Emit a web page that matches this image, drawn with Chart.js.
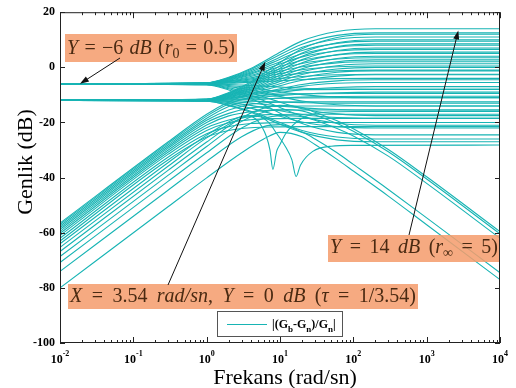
<!DOCTYPE html>
<html>
<head>
<meta charset="utf-8">
<script src="https://cdn.jsdelivr.net/npm/chart.js@4.4.0/dist/chart.umd.min.js"></script>
<style>
  html, body { margin: 0; padding: 0; background: #fff; }
  canvas { display: block; }
</style>
</head>
<body>
<canvas id="bode" width="516" height="388"></canvas>
<script>
// frequency grids (rad/sn)
const fanFreq = [0.01, 1, 2, 4, 8, 20, 60, 200, 10000];
const riseFreq = [0.01, 0.3, 1, 2, 4, 8, 20, 100, 10000];
const fallFreq = [0.01, 0.3, 1, 3, 6, 10, 20, 30, 60, 100, 300, 1000, 10000];

// curves that start flat at -6 dB (r0 = 0.5), values in dB on fanFreq
const curvesFromMinus6 = [
  [-6, -5.6, -3.6, -0.4, 4, 9.6, 13, 14, 14],
  [-6, -5.6, -3.8, -0.8, 3.3, 8.4, 11.6, 12.5, 12.5],
  [-6, -5.7, -4, -1.2, 2.5, 7.3, 10.2, 11, 11],
  [-6, -5.7, -4.1, -1.7, 1.8, 6.1, 8.7, 9.5, 9.5],
  [-6, -5.7, -4.3, -2.1, 1, 4.9, 7.3, 8, 8],
  [-6, -5.8, -4.5, -2.5, 0.3, 3.8, 5.9, 6.5, 6.5],
  [-6, -5.8, -4.7, -2.9, -0.5, 2.6, 4.5, 5, 5],
  [-6, -5.8, -4.9, -3.3, -1.3, 1.4, 3, 3.5, 3.5],
  [-6, -5.8, -5, -3.8, -2, 0.2, 1.6, 2, 2],
  [-6, -5.9, -5.2, -4.2, -2.8, -0.9, 0.2, 0.5, 0.5],
  [-6, -5.9, -5.4, -4.6, -3.5, -2.1, -1.3, -1, -1],
  [-6, -5.9, -5.6, -5, -4.3, -3.3, -2.7, -2.5, -2.5],
  [-6, -6, -5.8, -5.4, -5, -4.4, -4.1, -4, -4],
  [-6, -6, -6.2, -6.6, -7, -7.6, -7.9, -8, -8],
  [-6, -6.1, -6.6, -7.4, -8.5, -9.9, -10.8, -11, -11],
  [-6, -6.2, -7, -8.2, -10, -12.2, -13.6, -14, -14],
  [-6, -6.2, -7.4, -9.2, -11.8, -15, -16.9, -17.5, -17.5],
  [-6, -6.3, -7.8, -10.2, -13.5, -17.7, -20.3, -21, -21],
  [-6, -6.4, -8.2, -11.2, -15.3, -20.4, -23.6, -24.5, -24.5]
];

// curves that start flat at -12 dB, values in dB on fanFreq
const curvesFromMinus12 = [
  [-12, -11.5, -9.1, -5.3, 0, 6.7, 10.8, 12, 12],
  [-12, -11.6, -9.4, -5.8, -1, 5.2, 8.9, 10, 10],
  [-12, -11.6, -9.5, -6.3, -1.8, 4, 7.5, 8.5, 8.5],
  [-12, -11.6, -9.7, -6.7, -2.5, 2.8, 6.1, 7, 7],
  [-12, -11.7, -9.9, -7.1, -3.3, 1.7, 4.6, 5.5, 5.5],
  [-12, -11.7, -10.1, -7.5, -4, 0.5, 3.2, 4, 4],
  [-12, -11.7, -10.2, -7.9, -4.7, -0.5, 2, 2.7, 2.7],
  [-12, -11.7, -10.4, -8.3, -5.4, -1.6, 0.6, 1.3, 1.3],
  [-12, -11.8, -10.6, -8.6, -6, -2.6, -0.6, 0, 0],
  [-12, -11.8, -10.7, -9, -6.7, -3.7, -1.8, -1.3, -1.3],
  [-12, -11.8, -10.9, -9.4, -7.4, -4.7, -3.2, -2.7, -2.7],
  [-12, -11.9, -11.1, -9.9, -8.3, -6.2, -4.9, -4.5, -4.5],
  [-12, -11.9, -11.2, -10.2, -8.8, -6.9, -5.8, -5.5, -5.5],
  [-12, -11.9, -11.4, -10.6, -9.5, -8.1, -7.3, -7, -7],
  [-12, -11.9, -11.6, -11.2, -10.5, -9.7, -9.2, -9, -9],
  [-12, -12, -11.8, -11.6, -11.3, -10.8, -10.6, -10.5, -10.5],
  [-12, -12, -12.1, -12.3, -12.5, -12.8, -13, -13, -13],
  [-12, -12.1, -12.4, -13, -13.8, -14.7, -15.3, -15.5, -15.5],
  [-12, -12.1, -12.8, -13.8, -15.3, -17.1, -18.2, -18.5, -18.5],
  [-12, -12.2, -13.2, -14.8, -17, -19.8, -21.5, -22, -22],
  [-12, -12.3, -13.7, -15.9, -19, -22.9, -25.3, -26, -26],
  [-12, -12.3, -13.9, -16.3, -19.6, -23.6, -26.3, -27, -27]
];

// curves rising at +20 dB/dec from the left edge, then levelling off (riseFreq)
const risingCurves = [
  [-56.5, -27, -17, -12.6, -9.6, -8.4, -8.1, -8, -8],
  [-57, -27.5, -17.7, -13.3, -10.9, -9.9, -9.6, -9.5, -9.5],
  [-57.6, -28.1, -18.5, -14.2, -12.1, -11.3, -11.1, -11, -11],
  [-58.2, -28.7, -19.2, -15.5, -13.4, -12.7, -12.5, -12.5, -12.5],
  [-58.8, -29.3, -20, -16.7, -14.7, -14.2, -14, -14, -14],
  [-59.5, -30, -20.9, -17.6, -16.1, -15.6, -15.5, -15.5, -15.5],
  [-60.2, -30.7, -21.9, -19.1, -17.5, -17.1, -17, -17, -17],
  [-61, -31.5, -22.9, -20.1, -19, -18.6, -18.5, -18.5, -18.5],
  [-62, -32.5, -24.1, -21.5, -20.4, -20.1, -20, -20, -20],
  [-63, -33.5, -25.3, -22.9, -21.9, -21.6, -21.5, -21.5, -21.5]
];

// curves rising at low frequency and falling at -20 dB/dec at high frequency (fallFreq)
const fallingCurves = [
  [-66.8, -37.3, -27.1, -18.3, -14.8, -13.8, -14.6, -16.3, -19.4, -22.3, -29.8, -39.7, -59.6],
  [-68.6, -39.1, -28.7, -19.6, -16.3, -15.2, -15.8, -17.3, -20.4, -23.2, -30.6, -40.5, -60.4],
  [-70.8, -41.3, -31, -22, -18.5, -17.5, -17.9, -19.2, -22.2, -24.9, -32.2, -42.1, -62],
  [-74, -44.5, -34.1, -25.2, -21.5, -20.8, -23.5, -26, -31, -35.2, -44.3, -54.6, -74.5],
  [-80, -50.5, -40.1, -31, -26, -23.6, -25.2, -28, -33.4, -37.6, -46.7, -57.1, -77]
];

// two curves with a notch, [rad/sn, dB]
const notchCurveA = [[0.01, -64], [0.3, -34.5], [1, -24.6], [2, -19.8], [3.5, -17.5], [5, -19.5],
  [6.5, -25], [7.3, -30], [8, -37], [9, -30.5], [10, -28], [12, -24], [20, -18.5], [40, -16.3],
  [100, -16], [10000, -16]];
const notchCurveB = [[0.01, -65.3], [0.3, -35.8], [1, -25.6], [3, -18.5], [5, -17.8], [7, -20],
  [9, -24], [12, -29], [14.5, -33.5], [16.6, -39.6], [19, -35.5], [28, -30.5], [50, -28.6],
  [100, -28.3], [10000, -28.2]];

const yTicks = [-100, -80, -60, -40, -20, 0, 20];
const xDecades = [-2, -1, 0, 1, 2, 3, 4];

const CYAN = '#17b4b4';
const SERIF = '"Liberation Serif", "Times New Roman", serif';

const onGrid = (freqs, row) => row.map((v, i) => ({ x: freqs[i], y: v }));
const fromPairs = pairs => pairs.map(p => ({ x: p[0], y: p[1] }));

const curves = [
  ...curvesFromMinus6.map(r => onGrid(fanFreq, r)),
  ...curvesFromMinus12.map(r => onGrid(fanFreq, r)),
  ...risingCurves.map(r => onGrid(riseFreq, r)),
  ...fallingCurves.map(r => onGrid(fallFreq, r)),
  fromPairs(notchCurveA),
  fromPairs(notchCurveB)
];

const datasets = curves.map(data => ({
  label: '|(Gb-Gn)/Gn|',
  data: data,
  borderColor: CYAN,
  borderWidth: 1.1,
  pointRadius: 0,
  fill: false,
  cubicInterpolationMode: 'monotone'
}));

// draws a latex-like line, gaps (' ') stretched so the text fills left..right
function drawMath(ctx, parts, left, right, baseline, size) {
  const fontOf = st => st === 'i' ? `italic ${size}px ${SERIF}`
    : st === 's' ? `${Math.round(size * 0.7)}px ${SERIF}` : `${size}px ${SERIF}`;
  let natural = 0, gaps = 0;
  parts.forEach(([t, st]) => {
    if (st === ' ') { gaps++; return; }
    ctx.font = fontOf(st);
    natural += ctx.measureText(t).width;
  });
  const gap = gaps ? (right - left - natural) / gaps : 0;
  let xp = left;
  parts.forEach(([t, st]) => {
    if (st === ' ') { xp += gap; return; }
    ctx.font = fontOf(st);
    ctx.fillText(t, xp, st === 's' ? baseline + size * 0.22 : baseline);
    xp += ctx.measureText(t).width;
  });
}

function arrow(ctx, x0, y0, x1, y1) {
  const ang = Math.atan2(y1 - y0, x1 - x0);
  const len = 9, half = 3;
  ctx.beginPath();
  ctx.moveTo(x0, y0);
  ctx.lineTo(x1 - Math.cos(ang) * len * 0.8, y1 - Math.sin(ang) * len * 0.8);
  ctx.stroke();
  ctx.beginPath();
  ctx.moveTo(x1, y1);
  ctx.lineTo(x1 - Math.cos(ang) * len - Math.sin(ang) * half, y1 - Math.sin(ang) * len + Math.cos(ang) * half);
  ctx.lineTo(x1 - Math.cos(ang) * len + Math.sin(ang) * half, y1 - Math.sin(ang) * len - Math.cos(ang) * half);
  ctx.closePath();
  ctx.fill();
}

const G = ['', ' '];
const notes = [
  { box: [65, 34, 237, 62], base: 54, text: [['Y', 'i'], G, ['=', 'r'], G, ['\u22126', 'r'], G, ['dB', 'i'], G,
      ['(', 'r'], ['r', 'i'], ['0', 's'], G, ['=', 'r'], G, ['0.5)', 'r']],
    from: [120, 58], to: [0.0187, -6] },
  { box: [68, 284, 418, 309], base: 302, text: [['X', 'i'], G, ['=', 'r'], G, ['3.54', 'r'], G, ['rad/sn', 'i'],
      [',', 'r'], G, ['Y', 'i'], G, ['=', 'r'], G, ['0', 'r'], G, ['dB', 'i'], G, ['(', 'r'], ['\u03c4', 'i'], G,
      ['=', 'r'], G, ['1/3.54)', 'r']],
    from: [168, 285], to: [6.3, 2] },
  { box: [328, 235, 500, 262], base: 253, text: [['Y', 'i'], G, ['=', 'r'], G, ['14', 'r'], G, ['dB', 'i'], G,
      ['(', 'r'], ['r', 'i'], ['\u221e', 's'], G, ['=', 'r'], G, ['5)', 'r']],
    from: [409, 235], to: [2700, 13.4] }
];

const decorations = {
  id: 'decorations',
  afterDatasetsDraw(chart) {
    const { ctx, chartArea: a, scales: { x, y } } = chart;
    ctx.save();

    // annotation boxes and arrows
    notes.forEach(n => {
      const [l, t, r, b] = n.box;
      ctx.fillStyle = 'rgba(245,156,108,0.86)';
      ctx.fillRect(l, t, r - l, b - t);
      ctx.fillStyle = '#4a2a12';
      ctx.textBaseline = 'alphabetic';
      ctx.textAlign = 'left';
      drawMath(ctx, n.text, l + 2, r - 2, n.base, 20);
      ctx.strokeStyle = '#111';
      ctx.fillStyle = '#111';
      ctx.lineWidth = 1;
      arrow(ctx, n.from[0], n.from[1], x.getPixelForValue(n.to[0]), y.getPixelForValue(n.to[1]));
    });

    // legend
    ctx.fillStyle = '#fff';
    ctx.fillRect(217, 311, 126, 26);
    ctx.strokeStyle = '#555';
    ctx.strokeRect(217.5, 311.5, 125, 25);
    ctx.strokeStyle = CYAN;
    ctx.beginPath();
    ctx.moveTo(227, 324.5);
    ctx.lineTo(267, 324.5);
    ctx.stroke();
    ctx.fillStyle = '#000';
    ctx.textBaseline = 'alphabetic';
    let lx = 272;
    [['|(G', 0], ['b', 1], ['-G', 0], ['n', 1], [')/G', 0], ['n', 1], ['|', 0]].forEach(([t, sub]) => {
      ctx.font = `bold ${sub ? 9 : 12}px ${SERIF}`;
      ctx.fillText(t, lx, sub ? 332 : 328);
      lx += ctx.measureText(t).width;
    });

    // frame
    ctx.strokeStyle = '#222';
    ctx.lineWidth = 1;
    ctx.strokeRect(a.left + 0.5, a.top + 0.5, a.right - a.left - 1, a.bottom - a.top - 1);

    // inward tick marks
    ctx.beginPath();
    xDecades.forEach(k => {
      for (let m = 1; m <= 9; m++) {
        const v = m * Math.pow(10, k);
        if (v > 10000) break;
        const px = Math.round(x.getPixelForValue(v)) + 0.5;
        const len = m === 1 ? 6 : 3;
        ctx.moveTo(px, a.bottom); ctx.lineTo(px, a.bottom - len);
        ctx.moveTo(px, a.top); ctx.lineTo(px, a.top + len);
      }
    });
    yTicks.forEach(v => {
      const py = Math.round(y.getPixelForValue(v)) + 0.5;
      ctx.moveTo(a.left, py); ctx.lineTo(a.left + 5, py);
      ctx.moveTo(a.right, py); ctx.lineTo(a.right - 5, py);
    });
    ctx.stroke();

    // x tick labels 10^k
    ctx.fillStyle = '#000';
    xDecades.forEach(k => {
      const px = x.getPixelForValue(Math.pow(10, k));
      ctx.font = `bold 12px ${SERIF}`;
      const wBase = ctx.measureText('10').width;
      ctx.font = `bold 8px ${SERIF}`;
      const wExp = ctx.measureText(String(k)).width;
      const start = px - (wBase + wExp) / 2;
      ctx.font = `bold 12px ${SERIF}`;
      ctx.fillText('10', start, 363);
      ctx.font = `bold 8px ${SERIF}`;
      ctx.fillText(String(k), start + wBase, 356);
    });

    // axis titles
    ctx.font = `22px ${SERIF}`;
    ctx.textAlign = 'center';
    ctx.fillText('Frekans (rad/sn)', 285, 384);
    ctx.translate(32, 162);
    ctx.rotate(-Math.PI / 2);
    ctx.fillText('Genlik (dB)', 0, 0);
    ctx.restore();
  }
};

new Chart(document.getElementById('bode'), {
  type: 'line',
  data: { datasets },
  options: {
    responsive: false,
    animation: false,
    devicePixelRatio: 1,
    layout: { padding: { top: 7, right: 16, left: 0, bottom: 0 } },
    plugins: { legend: { display: false }, tooltip: { enabled: false } },
    scales: {
      x: {
        type: 'logarithmic',
        min: 0.01,
        max: 10000,
        grid: { display: false, drawTicks: false },
        border: { display: false },
        ticks: { display: false },
        afterFit(s) { s.height = 45; }
      },
      y: {
        min: -100,
        max: 20,
        grid: { display: false, drawTicks: false },
        border: { display: false },
        ticks: {
          stepSize: 20,
          padding: 5,
          color: '#000',
          font: { family: SERIF, size: 12, weight: 'bold' }
        },
        afterFit(s) { s.width = 60; }
      }
    }
  },
  plugins: [decorations]
});
</script>
</body>
</html>
